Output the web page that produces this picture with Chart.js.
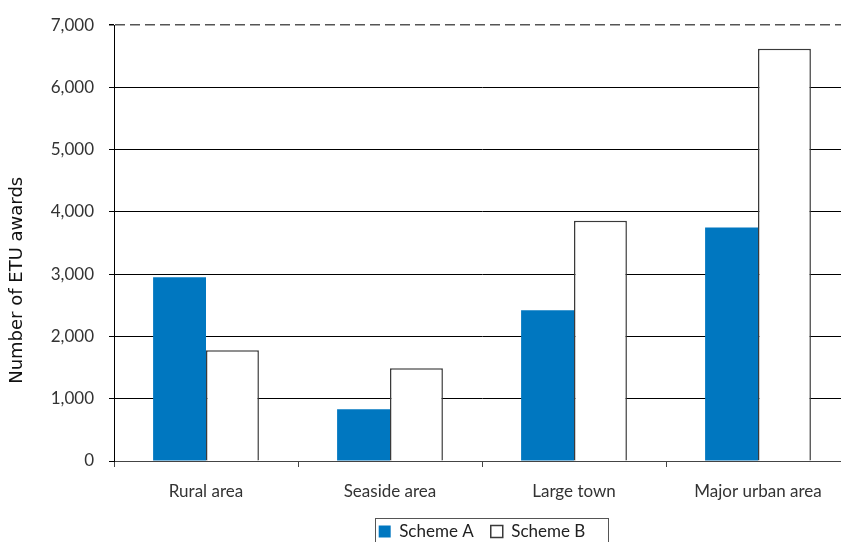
<!DOCTYPE html>
<html lang="en">
<head>
    <meta charset="UTF-8">
    <title>ETU awards by area</title>
    <style>
        html, body {
            margin: 0;
            padding: 0;
            overflow: hidden;
            background: #fff;
        }
        #wrap {
            width: 880px;
            height: 550px;
        }
    </style>
    <script src="https://cdn.jsdelivr.net/npm/chart.js"></script>
</head>
<body>
    <div id="wrap">
        <canvas id="awardsChart" width="880" height="550"></canvas>
    </div>

    <script>
        const categories = ['Rural area', 'Seaside area', 'Large town', 'Major urban area'];
        const schemeA = [2950, 830, 2420, 3750];
        const schemeB = [1780, 1490, 3860, 6620];
        const seriesNames = ['Scheme A', 'Scheme B'];
        const yTicks = [0, 1000, 2000, 3000, 4000, 5000, 6000, 7000];
        // title sits a bit below the middle of the axis in the original
        const yTitle = 'Number of ETU awards' + '\u00a0'.repeat(13);

        const labelFont = { family: 'Lato', size: 17 };
        const isTop = ctx => ctx.tick && ctx.tick.value === 7000;

        // centre the legend under the plot area and box it in
        const legendFrame = {
            id: 'legendFrame',
            afterUpdate(chart) {
                const lg = chart.legend;
                const boxes = lg.legendHitBoxes;
                if (!boxes || !boxes.length) return;
                const left = Math.min(...boxes.map(b => b.left));
                const right = Math.max(...boxes.map(b => b.left + b.width));
                const area = chart.chartArea;
                const dx = Math.round((area.left + area.right) / 2 - (left + right) / 2);
                lg.left += dx;
                lg.right += dx;
                boxes.forEach(b => { b.left += dx; });
            },
            afterDraw(chart) {
                const boxes = chart.legend.legendHitBoxes;
                if (!boxes || !boxes.length) return;
                const left = Math.min(...boxes.map(b => b.left));
                const right = Math.max(...boxes.map(b => b.left + b.width));
                const top = Math.min(...boxes.map(b => b.top));
                const ctx = chart.ctx;
                ctx.save();
                ctx.strokeStyle = '#555';
                ctx.lineWidth = 1;
                ctx.strokeRect(Math.round(left - 4) + 0.5, Math.round(top - 5) + 0.5, Math.round(right - left + 26), 60);
                ctx.restore();
            }
        };

        new Chart(document.getElementById('awardsChart'), {
            type: 'bar',
            data: {
                labels: categories,
                datasets: [{
                    label: seriesNames[0],
                    data: schemeA,
                    backgroundColor: '#0077c0',
                    borderWidth: 0
                }, {
                    label: seriesNames[1],
                    data: schemeB,
                    backgroundColor: '#ffffff',
                    borderColor: '#3a3a3a',
                    borderWidth: 1.5
                }]
            },
            options: {
                responsive: false,
                animation: false,
                layout: { padding: { left: 0, right: 30, top: 23, bottom: 0 } },
                datasets: {
                    bar: { categoryPercentage: 0.575, barPercentage: 1 }
                },
                plugins: {
                    tooltip: { enabled: false },
                    legend: {
                        position: 'bottom',
                        labels: {
                            font: labelFont,
                            color: '#222',
                            boxWidth: 12,
                            boxHeight: 12,
                            padding: 17
                        }
                    }
                },
                scales: {
                    x: {
                        grid: {
                            drawOnChartArea: false,
                            offset: true,
                            color: '#444',
                            tickLength: 6
                        },
                        border: { color: '#444', width: 1 },
                        ticks: {
                            font: labelFont,
                            color: '#333',
                            padding: 14
                        },
                        afterFit(scale) { scale.height = 45; }
                    },
                    y: {
                        min: 0,
                        max: 7000,
                        afterBuildTicks(scale) {
                            scale.ticks = yTicks.map(v => ({ value: v }));
                        },
                        grid: {
                            color: ctx => isTop(ctx) ? '#555' : '#000',
                            tickColor: '#000',
                            lineWidth: ctx => isTop(ctx) ? 1.5 : 1,
                            tickLength: 5
                        },
                        border: {
                            color: '#000',
                            dash: ctx => isTop(ctx) ? [10, 5] : []
                        },
                        ticks: {
                            font: labelFont,
                            color: '#333',
                            padding: 15,
                            callback: v => v.toLocaleString('en-US')
                        },
                        title: {
                            display: true,
                            text: yTitle,
                            font: { family: 'DejaVu Sans', size: 18 },
                            color: '#111',
                            padding: { top: 7, bottom: 0 }
                        },
                        afterFit(scale) { scale.width = 114; }
                    }
                }
            },
            plugins: [legendFrame]
        });
    </script>
</body>
</html>
